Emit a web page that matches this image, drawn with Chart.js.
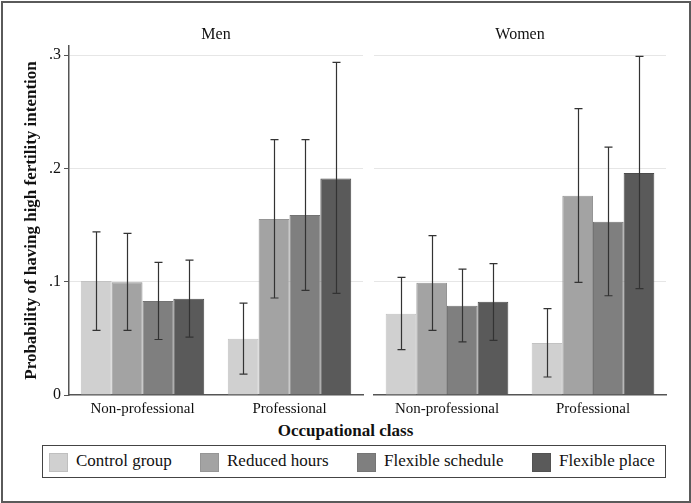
<!DOCTYPE html>
<html>
<head>
<meta charset="utf-8">
<script src="https://cdn.jsdelivr.net/npm/chart.js@4"></script>
<style>
  body { margin: 0; background: #fff; font-family: "Liberation Serif", serif; }
  #frame { position: absolute; left: 1px; top: 1px; width: 686px; height: 498px; border: 2px solid #5a5a5a; }
  .panel { position: absolute; top: 0; }
  #xtitle { position: absolute; left: 0; width: 691px; top: 421px; text-align: center; font-weight: bold; font-size: 17px; color: #111; }
  #legend { position: absolute; left: 42px; top: 445px; width: 622px; height: 31px; border: 1px solid #444; }
  .item { position: absolute; top: 7px; height: 18px; }
  .sw { position: absolute; left: 0; top: 0; width: 17px; height: 17px; border: 1px solid rgba(0,0,0,0.08); }
  .lab { position: absolute; left: 27px; top: -2px; font-size: 17px; white-space: nowrap; color: #111; }
</style>
</head>
<body>
<div id="frame"></div>
<div class="panel" style="left:0px;width:366px;height:420px"><canvas id="men"></canvas></div>
<div class="panel" style="left:366px;width:325px;height:420px"><canvas id="women"></canvas></div>
<div id="xtitle">Occupational class</div>
<div id="legend"></div>
<script>
// categories & series
var classes = ["Non-professional", "Professional"];
var groups = ["Control group", "Reduced hours", "Flexible schedule", "Flexible place"];
var colors = ["#d0d0d0", "#a3a3a3", "#7f7f7f", "#5a5a5a"];
var borders = ["#c2c2c2", "#959595", "#737373", "#4c4c4c"];
var yTicks = [0, 0.1, 0.2, 0.3];

// men: [non-prof, prof] per group
var menVals = [[0.1006, 0.0497], [0.0994, 0.1553], [0.0830, 0.1588], [0.0850, 0.1910]];
var menLow  = [[0.057, 0.0185], [0.057, 0.0856], [0.049, 0.0924], [0.051, 0.0897]];
var menHigh = [[0.144, 0.081], [0.1427, 0.2253], [0.117, 0.2253], [0.119, 0.2935]];

// women
var womenVals = [[0.0718, 0.0459], [0.0990, 0.1759], [0.0788, 0.1530], [0.0824, 0.1959]];
var womenLow  = [[0.040, 0.0159], [0.057, 0.0994], [0.0468, 0.0876], [0.0482, 0.0938]];
var womenHigh = [[0.1038, 0.0762], [0.1406, 0.2527], [0.111, 0.2188], [0.1159, 0.2988]];

// error bars drawn from the y scale
var errorBars = {
  id: 'errorBars',
  afterDatasetsDraw: function(chart) {
    var ctx = chart.ctx;
    var y = chart.scales.y;
    ctx.save();
    ctx.strokeStyle = '#333';
    ctx.lineWidth = 1.2;
    chart.data.datasets.forEach(function(ds, i) {
      var meta = chart.getDatasetMeta(i);
      meta.data.forEach(function(bar, j) {
        var x = Math.round(bar.x) + 0.5;
        var top = y.getPixelForValue(ds.hi[j]);
        var bot = y.getPixelForValue(ds.lo[j]);
        ctx.beginPath();
        ctx.moveTo(x, top); ctx.lineTo(x, bot);
        ctx.moveTo(x - 4, top); ctx.lineTo(x + 4, top);
        ctx.moveTo(x - 4, bot); ctx.lineTo(x + 4, bot);
        ctx.stroke();
      });
    });
    ctx.restore();
  }
};

// panel title centred over the plot area
var panelTitle = {
  id: 'panelTitle',
  afterDraw: function(chart, args, opts) {
    var ctx = chart.ctx;
    var a = chart.chartArea;
    ctx.save();
    ctx.font = '16px "Liberation Serif"';
    ctx.fillStyle = '#111';
    ctx.textAlign = 'center';
    ctx.textBaseline = 'middle';
    ctx.fillText(opts.text, (a.left + a.right) / 2, 35);
    ctx.restore();
  }
};

function makePanel(id, title, vals, lo, hi, first) {
  var datasets = groups.map(function(g, i) {
    return {
      label: g,
      data: vals[i],
      lo: lo[i],
      hi: hi[i],
      backgroundColor: colors[i],
      borderColor: borders[i],
      borderWidth: 1,
      categoryPercentage: 0.84,
      barPercentage: 1.0
    };
  });
  return new Chart(document.getElementById(id), {
    type: 'bar',
    data: { labels: classes, datasets: datasets },
    plugins: [errorBars, panelTitle],
    options: {
      responsive: true,
      maintainAspectRatio: false,
      animation: false,
      layout: { padding: { left: first ? 21 : 0, right: first ? 3 : 25, top: 46, bottom: 0 } },
      plugins: {
        legend: { display: false },
        tooltip: { enabled: false },
        title: { display: false },
        panelTitle: { text: title }
      },
      scales: {
        x: {
          grid: { display: false, drawTicks: false },
          border: { display: true, color: '#555', width: 1.5 },
          ticks: { color: '#111', padding: 5, font: { family: 'Liberation Serif', size: 15 } },
          afterFit: function(s) { s.height = 25; }
        },
        y: {
          min: 0, max: 0.308,
          afterBuildTicks: function(s) { s.ticks = yTicks.map(function(v) { return { value: v }; }); },
          grid: {
            display: true,
            color: function(c) { return c.tick && c.tick.value === 0 ? 'rgba(0,0,0,0)' : '#e6e6e6'; },
            drawTicks: first, tickLength: 5, tickColor: '#555'
          },
          border: { display: first, color: '#555', width: 1.5 },
          ticks: {
            display: first, color: '#111', padding: 3,
            font: { family: 'Liberation Serif', size: 16 },
            callback: function(v) { return v === 0 ? '0' : String(Math.round(v * 10) / 10).replace(/^0/, ''); }
          },
          title: {
            display: first, text: 'Probability of having high fertility intention', color: '#111',
            font: { family: 'Liberation Serif', size: 17, weight: 'bold' }, padding: 0
          },
          afterFit: function(s) { s.width = first ? 48 : 8; }
        }
      }
    }
  });
}

makePanel('men', 'Men', menVals, menLow, menHigh, true);
makePanel('women', 'Women', womenVals, womenLow, womenHigh, false);

// legend
var leg = document.getElementById('legend');
var legX = [6, 157, 314, 489];
groups.forEach(function(g, i) {
  var d = document.createElement('div');
  d.className = 'item';
  d.style.left = legX[i] + 'px';
  d.innerHTML = '<div class="sw" style="background:' + colors[i] + '"></div><div class="lab">' + g + '</div>';
  leg.appendChild(d);
});
</script>
</body>
</html>
